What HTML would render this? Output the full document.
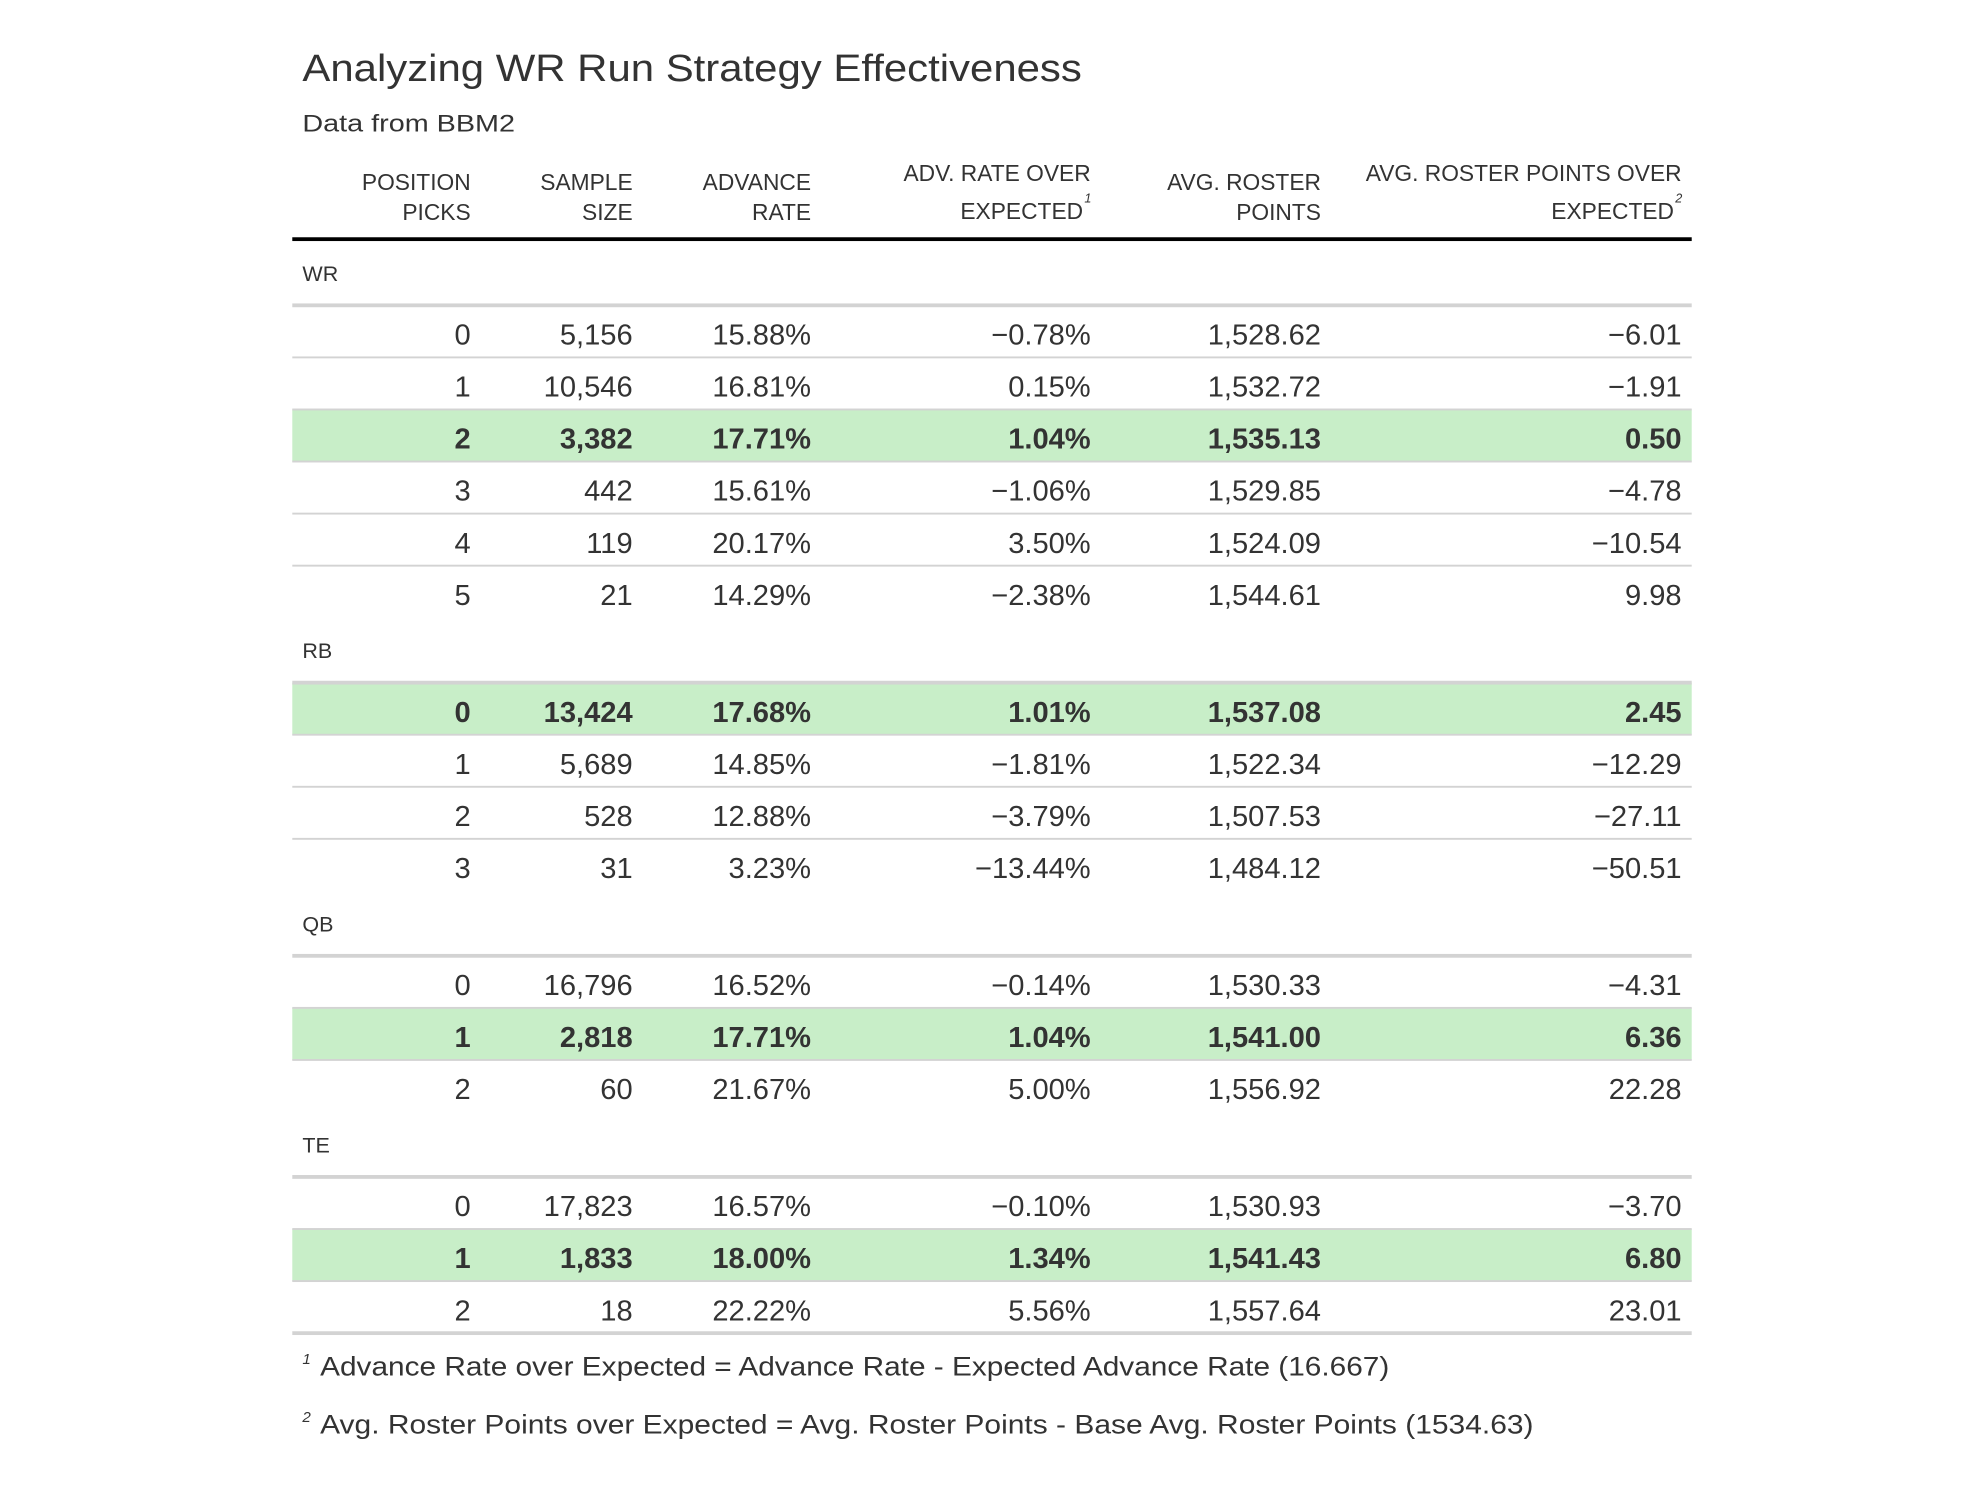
<!DOCTYPE html>
<html><head><meta charset="utf-8"><style>
html,body{margin:0;padding:0;background:#fff}
svg{display:block}
text{font-family:"Liberation Sans",sans-serif;fill:#333}
</style></head><body>
<svg id="tbl" width="1984" height="1486" viewBox="0 0 1568 1174.4" xmlns="http://www.w3.org/2000/svg">
<text x="239" y="64" font-size="30" textLength="616" lengthAdjust="spacingAndGlyphs">Analyzing WR Run Strategy Effectiveness</text>
<text x="239" y="104" font-size="19" textLength="168" lengthAdjust="spacingAndGlyphs">Data from BBM2</text>
<g id="hdr"></g>
<rect x="231" y="187.5" width="1106" height="3" fill="#000"></rect>
<g id="body"></g>
<text x="239" y="1087" font-size="21"><tspan font-size="12" font-style="italic" dy="-9">1</tspan><tspan x="253" dy="9" textLength="845" lengthAdjust="spacingAndGlyphs">Advance Rate over Expected = Advance Rate - Expected Advance Rate (16.667)</tspan></text>
<text x="239" y="1133" font-size="21"><tspan font-size="12" font-style="italic" dy="-9">2</tspan><tspan x="253" dy="9" textLength="959" lengthAdjust="spacingAndGlyphs">Avg. Roster Points over Expected = Avg. Roster Points - Base Avg. Roster Points (1534.63)</tspan></text>
</svg>
<script>
const groups = ["WR","RB","QB","TE"];
const picks = [["0","1","2","3","4","5"],["0","1","2","3"],["0","1","2"],["0","1","2"]];
const sampleSize = [["5,156","10,546","3,382","442","119","21"],["13,424","5,689","528","31"],["16,796","2,818","60"],["17,823","1,833","18"]];
const advanceRate = [["15.88%","16.81%","17.71%","15.61%","20.17%","14.29%"],["17.68%","14.85%","12.88%","3.23%"],["16.52%","17.71%","21.67%"],["16.57%","18.00%","22.22%"]];
const advOverExp = [["\u22120.78%","0.15%","1.04%","\u22121.06%","3.50%","\u22122.38%"],["1.01%","\u22121.81%","\u22123.79%","\u221213.44%"],["\u22120.14%","1.04%","5.00%"],["\u22120.10%","1.34%","5.56%"]];
const rosterPts = [["1,528.62","1,532.72","1,535.13","1,529.85","1,524.09","1,544.61"],["1,537.08","1,522.34","1,507.53","1,484.12"],["1,530.33","1,541.00","1,556.92"],["1,530.93","1,541.43","1,557.64"]];
const ptsOverExp = [["\u22126.01","\u22121.91","0.50","\u22124.78","\u221210.54","9.98"],["2.45","\u221212.29","\u221227.11","\u221250.51"],["\u22124.31","6.36","22.28"],["\u22123.70","6.80","23.01"]];
const highlight = [2,0,1,1];
const headers = [["POSITION","PICKS"],["SAMPLE","SIZE"],["ADVANCE","RATE"],["ADV. RATE OVER","EXPECTED"],["AVG. ROSTER","POINTS"],["AVG. ROSTER POINTS OVER","EXPECTED"]];
const colX=[372,500,641,862,1044,1329];
const NS="http://www.w3.org/2000/svg";
function mk(tag,attrs,parent){const e=document.createElementNS(NS,tag);for(const k in attrs)e.setAttribute(k,attrs[k]);parent.appendChild(e);return e;}
const hdr=document.getElementById('hdr');
headers.forEach((h,i)=>{
  const sup=(i===3||i===5);
  const y1=sup?143:150, y2=sup?173:174;
  const t1=mk('text',{x:colX[i],y:y1,'font-size':18,'text-anchor':'end'},hdr);
  
  
  t1.textContent=h[0];
  const t2=mk('text',{x:sup?colX[i]-6:colX[i],y:y2,'font-size':18,'text-anchor':'end'},hdr);
  
  
  t2.textContent=h[1];
  if(sup){const s=mk('text',{x:colX[i]-5,y:y2-13,'font-size':10,'font-style':'italic'},hdr);
    
    
    s.textContent=i===3?'1':'2';}
});
const body=document.getElementById('body');
let y=190;
const RH=41.15;
groups.forEach((g,gi)=>{
  const lab=mk('text',{x:239,y:y+32,'font-size':17},body);
  
  
  lab.textContent=g;
  y+=51.3;
  const rowTop=y;
  const n=picks[gi].length;
  for(let r=0;r<n;r++){
    const top=rowTop+r*RH;
    const hl=highlight[gi]===r;
    if(hl){const bg=mk('rect',{x:231,y:top,width:1106,height:RH,fill:'#c8eec8'},body);
      
      }
    const vals=[picks[gi][r],sampleSize[gi][r],advanceRate[gi][r],advOverExp[gi][r],rosterPts[gi][r],ptsOverExp[gi][r]];
    vals.forEach((v,c)=>{
      const t=mk('text',{x:colX[c],y:top+31,'font-size':23,'text-anchor':'end','font-weight':hl?'bold':'normal',fill:hl?'#000':'#333'},body);
      
      
      t.textContent=v;
    });
    if(r>0){const ln=mk('rect',{x:231,y:top-0.75,width:1106,height:1.5,fill:'#d3d3d3'},body);
      
      }
  }
  const gl=mk('rect',{x:231,y:rowTop-1.5,width:1106,height:3,fill:'#d3d3d3'},body);
  
  
  y=rowTop+n*RH;
});
const bl=mk('rect',{x:231,y:y-1.5,width:1106,height:3,fill:'#d3d3d3'},body);


</script>
</body></html>
